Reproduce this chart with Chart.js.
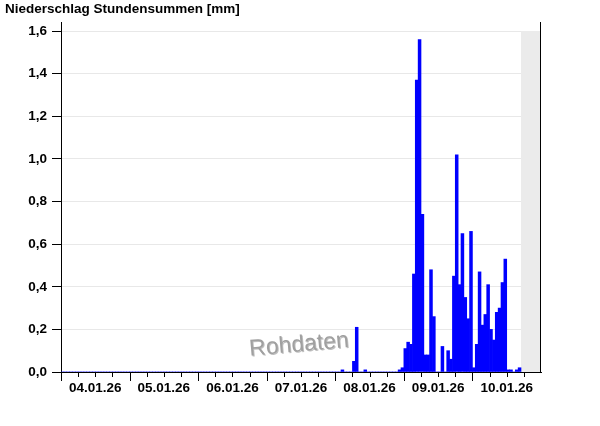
<!DOCTYPE html>
<html>
<head>
<meta charset="utf-8">
<title>Niederschlag Stundensummen</title>
<script src="https://cdn.jsdelivr.net/npm/chart.js@4.4.1/dist/chart.umd.min.js"></script>
<style>
  html, body { margin: 0; padding: 0; background: #fff; }
  canvas { display: block; }
</style>
</head>
<body>
<canvas id="rainChart" width="600" height="426"></canvas>
<script>
// ===========================
// Data: hourly precipitation sums [mm], one array per day (00h..23h)
// ===========================
const dayLabels = ["04.01.26", "05.01.26", "06.01.26", "07.01.26", "08.01.26", "09.01.26", "10.01.26"];

const rain04 = [0,0,0,0,0,0,0,0,0,0,0,0,0,0,0,0,0,0,0,0,0,0,0,0];
const rain05 = [0,0,0,0,0,0,0,0,0,0,0,0,0,0,0,0,0,0,0,0,0,0,0,0];
const rain06 = [0,0,0,0,0,0,0,0,0,0,0,0,0,0,0,0,0,0,0,0,0,0,0,0];
const rain07 = [0,0,0,0,0,0,0,0,0,0,0,0,0,0,0,0,0,0,0,0,0,0,0,0];
const rain08 = [0,0,0.01,0,0,0,0.05,0.21,0,0,0.01,0,0,0,0,0,0,0,0,0,0,0,0.01,0.02];
const rain09 = [0.11,0.14,0.13,0.46,1.37,1.56,0.74,0.08,0.08,0.48,0.26,0,
                0,0.12,0,0.10,0.06,0.45,1.02,0.41,0.65,0.35,0.25,0.66];
const rain10 = [0.02,0.13,0.47,0.22,0.27,0.41,0.20,0.15,0.28,0.30,0.42,0.53,
                0.01,0.01,0,0.01,0.02,null,null,null,null,null,null,null];

const yTicks = [0, 0.2, 0.4, 0.6, 0.8, 1.0, 1.2, 1.4, 1.6];
const noDataFromHour = 161;   // 10.01. 17:00, no values after this yet

// ===========================
// Build points (x = hour since 04.01. 00:00, bar centred in its hour)
// ===========================
const hourly = [rain04, rain05, rain06, rain07, rain08, rain09, rain10].flat();
const totalHours = hourly.length;
const points = hourly.map((v, i) => ({ x: i + 0.5, y: v }));

// ===========================
// Extra drawing: grey "no data" box, watermark, frame, x ticks
// ===========================
const framePlugin = {
  id: "frame",
  beforeDatasetsDraw(chart) {
    const { ctx, scales: { x, y } } = chart;
    ctx.save();
    const x0 = x.getPixelForValue(noDataFromHour), x1 = x.getPixelForValue(totalHours);
    const yTop = y.getPixelForValue(1.6), yBot = y.getPixelForValue(0);
    ctx.fillStyle = "#ebebeb";
    ctx.fillRect(x0, yTop, x1 - x0, yBot - yTop);

    // watermark
    ctx.translate(299, 345);
    ctx.rotate(-5 * Math.PI / 180);
    ctx.font = "23px 'Liberation Sans', Arial, sans-serif";
    ctx.textAlign = "center";
    ctx.textBaseline = "middle";
    ctx.shadowColor = "rgba(0,0,0,0.25)";
    ctx.shadowOffsetX = 1;
    ctx.shadowOffsetY = 1;
    ctx.shadowBlur = 0.5;
    ctx.fillStyle = "#a0a0a0";
    ctx.fillText("Rohdaten", 0, 0);
    ctx.restore();
  },
  afterDraw(chart) {
    const { ctx, chartArea, scales: { x } } = chart;
    ctx.save();
    ctx.strokeStyle = "#000";
    ctx.lineWidth = 1;
    ctx.beginPath();
    // right frame line
    const xr = Math.round(chartArea.right) - 0.5;
    ctx.moveTo(xr, chartArea.top);
    ctx.lineTo(xr, chartArea.bottom);
    // x ticks: long at midnight, short every 6 h
    for (let h = 0; h < totalHours; h += 6) {
      const px = Math.round(x.getPixelForValue(h)) + 0.5;
      const len = h % 24 === 0 ? 9 : 5;
      ctx.moveTo(px, chartArea.bottom);
      ctx.lineTo(px, chartArea.bottom + len);
    }
    ctx.stroke();
    ctx.restore();
  }
};

// ===========================
// Chart
// ===========================
Chart.defaults.font.family = "'Liberation Sans', Arial, sans-serif";
Chart.defaults.font.size = 13.5;
Chart.defaults.color = "#000";

new Chart(document.getElementById("rainChart"), {
  type: "bar",
  data: {
    datasets: [{
      data: points,
      backgroundColor: "#0000ff",
      borderWidth: 0,
      barPercentage: 1,
      categoryPercentage: 1
    }]
  },
  options: {
    responsive: false,
    animation: false,
    devicePixelRatio: 1,
    layout: { padding: { left: 5, right: 59, top: 0, bottom: 0 } },
    plugins: {
      legend: { display: false },
      tooltip: { enabled: false },
      title: {
        display: true,
        text: "Niederschlag Stundensummen [mm]",
        align: "start",
        color: "#000",
        font: { size: 13.5, weight: "bold" },
        padding: { top: 1, bottom: 4.8 }
      }
    },
    scales: {
      x: {
        type: "linear",
        min: 0,
        max: totalHours,
        offset: false,
        afterBuildTicks: s => {
          const t = [];
          for (let h = 0; h <= totalHours; h += 6) t.push({ value: h });
          s.ticks = t;
        },
        afterFit: s => { s.height = 54; },
        grid: { display: true, drawOnChartArea: false, drawTicks: false },
        border: { color: "#000" },
        ticks: {
          autoSkip: false,
          maxRotation: 0,
          padding: 8,
          font: { weight: "bold" },
          callback: v => (v % 24 === 12 ? dayLabels[(v - 12) / 24] : "")
        }
      },
      y: {
        min: 0,
        max: 1.643,
        afterBuildTicks: s => { s.ticks = yTicks.map(v => ({ value: v })); },
        afterFit: s => { s.width = 56; },
        grid: { color: "#e8e8e8", tickColor: "#000", tickLength: 9 },
        border: { color: "#000" },
        ticks: {
          padding: 5,
          font: { weight: "bold" },
          callback: v => v.toFixed(1).replace(".", ",")
        }
      }
    }
  },
  plugins: [framePlugin]
});
</script>
</body>
</html>
